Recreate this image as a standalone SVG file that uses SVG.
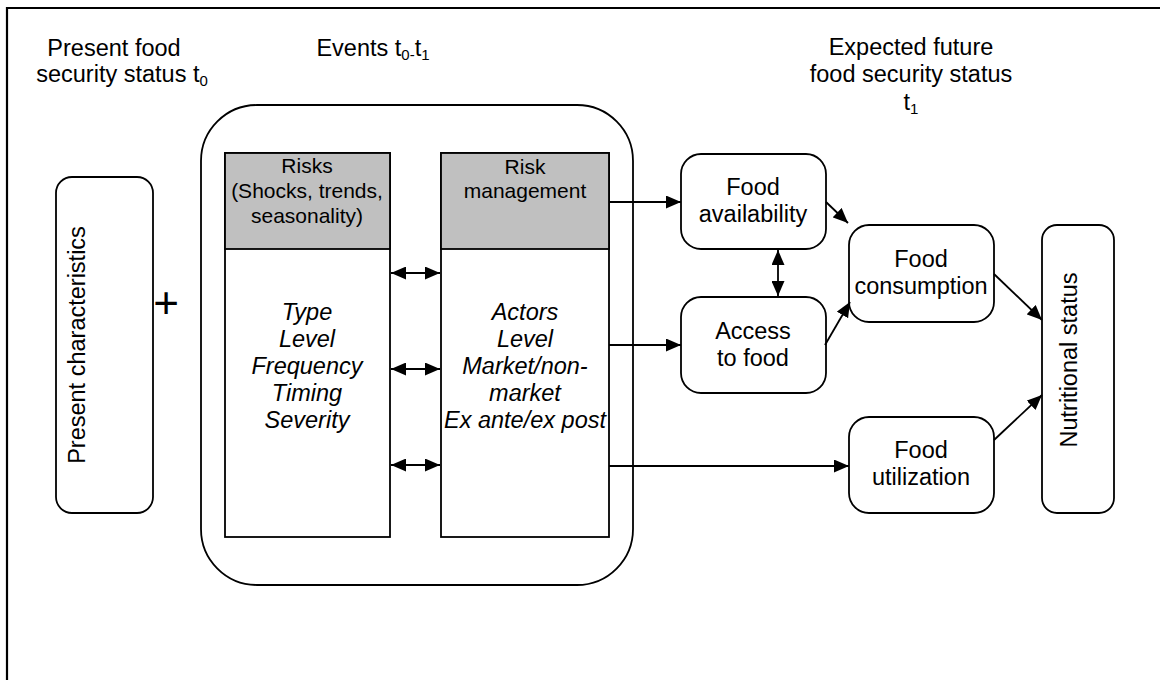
<svg xmlns="http://www.w3.org/2000/svg" width="1160" height="680" viewBox="0 0 1160 680">
<defs>
<style>
text{font-family:"Liberation Sans",Arial,sans-serif;fill:#000}
.t{font-size:23.5px;text-anchor:middle}
.h{font-size:21px;text-anchor:middle}
.i{font-size:23.5px;text-anchor:middle;font-style:italic}
.sub{font-size:15px}
.box{fill:#fff;stroke:#000;stroke-width:1.8}
.gray{fill:#c0c0c0;stroke:#000;stroke-width:1.8}
.ln{fill:none;stroke:#000;stroke-width:1.8}
</style>
<marker id="ah" viewBox="0 0 15 13" refX="15" refY="6.5" markerWidth="15" markerHeight="13" markerUnits="userSpaceOnUse" orient="auto-start-reverse">
<path d="M0,0 L15,6.5 L0,13 Z" fill="#000"/>
</marker>
</defs>
<rect x="0" y="0" width="1160" height="680" fill="#fff"/>
<path d="M7,690 L7,8 L1170,8" class="ln" style="stroke-width:2.2"/>

<g id="titles">
<text class="t" x="114" y="56">Present food</text>
<text class="t" x="122" y="82">security status t<tspan class="sub" dy="4">0</tspan></text>
<text class="t" x="373" y="56">Events t<tspan class="sub" dy="4">0-</tspan><tspan dy="-4">t</tspan><tspan class="sub" dy="4">1</tspan></text>
<text class="t" x="911" y="55">Expected future</text>
<text class="t" x="911" y="82">food security status</text>
<text class="t" x="911" y="110">t<tspan class="sub" dy="4">1</tspan></text>
</g>

<g id="present">
<rect class="box" x="56" y="177" width="97" height="336" rx="16"/>
<text class="t" transform="translate(85,345) rotate(-90)">Present characteristics</text>
</g>
<text id="plus" x="166" y="318" style="font-size:44px;text-anchor:middle;font-weight:300">+</text>

<g id="events">
<rect class="box" x="201" y="105" width="432" height="480" rx="56"/>
</g>

<g id="risks">
<rect class="box" x="225" y="153" width="165" height="384"/>
<rect class="gray" x="225" y="153" width="165" height="96"/>
<text class="h" x="307" y="173">Risks</text>
<text class="h" x="307" y="198">(Shocks, trends,</text>
<text class="h" x="307" y="223">seasonality)</text>
<text class="i" x="307" y="320">Type</text>
<text class="i" x="307" y="347">Level</text>
<text class="i" x="307" y="374">Frequency</text>
<text class="i" x="307" y="401">Timing</text>
<text class="i" x="307" y="428">Severity</text>
</g>

<g id="riskmgmt">
<rect class="box" x="441" y="153" width="168" height="384"/>
<rect class="gray" x="441" y="153" width="168" height="96"/>
<text class="h" x="525" y="174">Risk</text>
<text class="h" x="525" y="198">management</text>
<text class="i" x="525" y="320">Actors</text>
<text class="i" x="525" y="347">Level</text>
<text class="i" x="525" y="374">Market/non-</text>
<text class="i" x="525" y="401">market</text>
<text class="i" x="525" y="428">Ex ante/ex post</text>
</g>

<g id="availability">
<rect class="box" x="681" y="154" width="145" height="95" rx="20"/>
<text class="t" x="753" y="195">Food</text>
<text class="t" x="753" y="222">availability</text>
</g>
<g id="access">
<rect class="box" x="681" y="297" width="145" height="96" rx="20"/>
<text class="t" x="753" y="339">Access</text>
<text class="t" x="753" y="366">to food</text>
</g>
<g id="consumption">
<rect class="box" x="849" y="225" width="145" height="97" rx="20"/>
<text class="t" x="921" y="267">Food</text>
<text class="t" x="921" y="294">consumption</text>
</g>
<g id="utilization">
<rect class="box" x="849" y="417" width="145" height="96" rx="20"/>
<text class="t" x="921" y="458">Food</text>
<text class="t" x="921" y="485">utilization</text>
</g>
<g id="nutritional">
<rect class="box" x="1042" y="225" width="72" height="288" rx="15"/>
<text class="t" transform="translate(1077,360) rotate(-90)">Nutritional status</text>
</g>

<g id="connectors">
<line class="ln" x1="391" y1="273" x2="440" y2="273" marker-start="url(#ah)" marker-end="url(#ah)"/>
<line class="ln" x1="391" y1="369" x2="440" y2="369" marker-start="url(#ah)" marker-end="url(#ah)"/>
<line class="ln" x1="391" y1="465" x2="440" y2="465" marker-start="url(#ah)" marker-end="url(#ah)"/>
<line class="ln" x1="609" y1="202" x2="681" y2="202" marker-end="url(#ah)"/>
<line class="ln" x1="609" y1="345" x2="681" y2="345" marker-end="url(#ah)"/>
<line class="ln" x1="609" y1="466" x2="849" y2="466" marker-end="url(#ah)"/>
<line class="ln" x1="778" y1="250" x2="778" y2="296" marker-start="url(#ah)" marker-end="url(#ah)"/>
<line class="ln" x1="826" y1="202" x2="848" y2="223" marker-end="url(#ah)"/>
<line class="ln" x1="825" y1="345" x2="850" y2="302" marker-end="url(#ah)"/>
<line class="ln" x1="994" y1="274" x2="1042" y2="320" marker-end="url(#ah)"/>
<line class="ln" x1="994" y1="440" x2="1042" y2="395" marker-end="url(#ah)"/>
</g>
</svg>
